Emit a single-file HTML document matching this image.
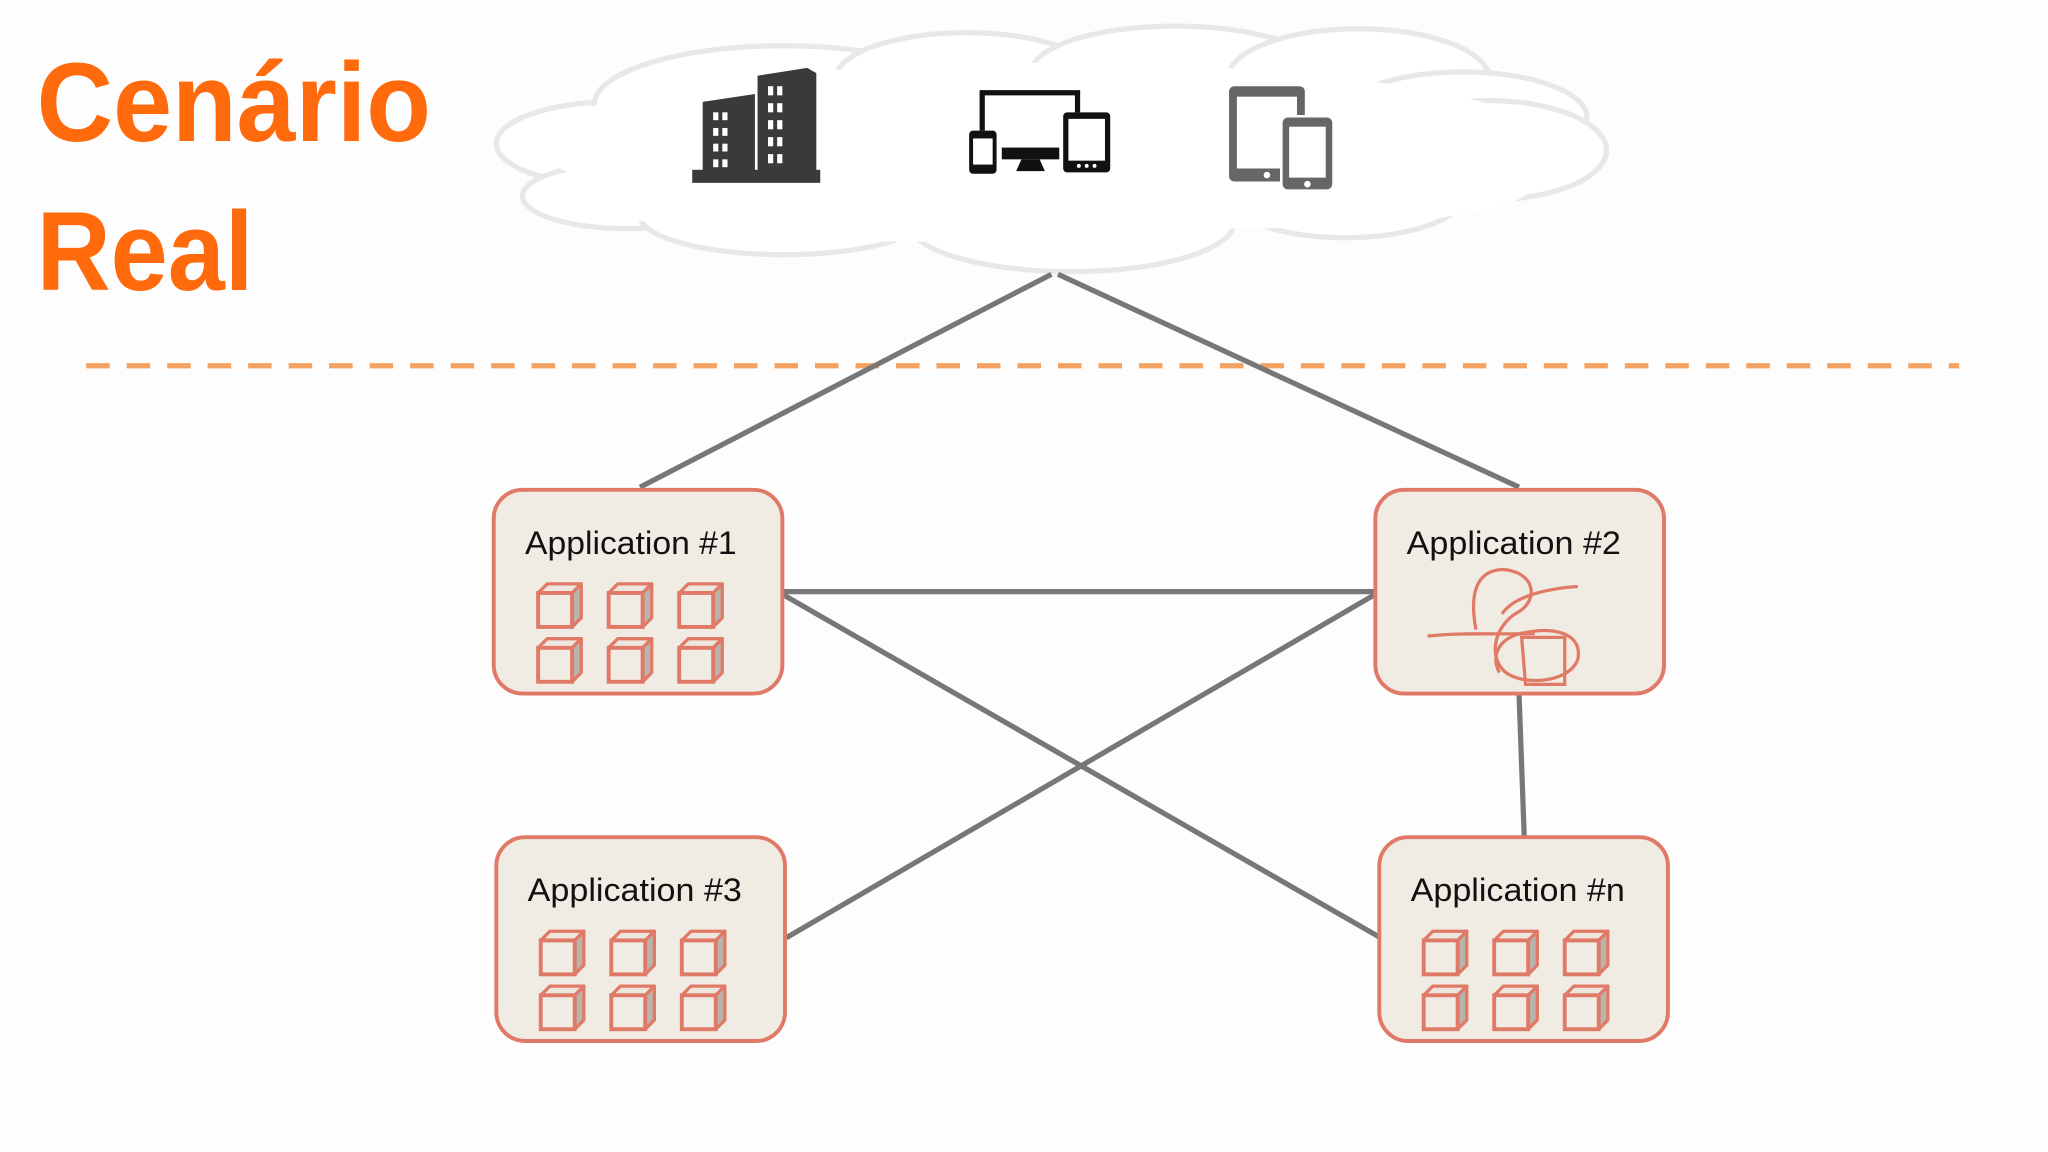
<!DOCTYPE html>
<html><head><meta charset="utf-8"><style>
html,body{margin:0;padding:0;background:#fdfdfd;}
svg{display:block;}
</style></head><body>
<svg width="2048" height="1152" viewBox="0 0 1568 882" xmlns="http://www.w3.org/2000/svg">
<defs>
<g id="cube">
  <polygon points="0,7 7,0 33,0 26,7" fill="#ece6df" stroke="#e07a66" stroke-width="2.5" stroke-linejoin="round"/>
  <polygon points="26,7 33,0 33,26 26,33" fill="#b9b4ae" stroke="#e07a66" stroke-width="2.5" stroke-linejoin="round"/>
  <rect x="0" y="7" width="26" height="26" fill="#f0ece4" stroke="#e07a66" stroke-width="3"/>
</g>
<g id="cubes">
  <use href="#cube" x="0" y="0"/><use href="#cube" x="54" y="0"/><use href="#cube" x="108" y="0"/>
  <use href="#cube" x="0" y="42"/><use href="#cube" x="54" y="42"/><use href="#cube" x="108" y="42"/>
</g>
</defs>
<rect width="1568" height="882" fill="#fdfdfd"/>
<!-- cloud -->
<g fill="#ffffff" stroke="#e8e8e8" stroke-width="4">
  <ellipse cx="470" cy="110" rx="90" ry="32"/>
  <ellipse cx="480" cy="150" rx="80" ry="25"/>
  <ellipse cx="600" cy="80" rx="145" ry="45"/>
  <ellipse cx="600" cy="165" rx="110" ry="30"/>
  <ellipse cx="820" cy="170" rx="125" ry="38"/>
  <ellipse cx="740" cy="60" rx="100" ry="35"/>
  <ellipse cx="900" cy="55" rx="110" ry="35"/>
  <ellipse cx="1040" cy="60" rx="100" ry="38"/>
  <ellipse cx="1120" cy="90" rx="95" ry="35"/>
  <ellipse cx="1140" cy="115" rx="90" ry="38"/>
  <ellipse cx="1030" cy="150" rx="90" ry="32"/>
</g>
<g fill="#ffffff">
  <ellipse cx="800" cy="110" rx="390" ry="62"/>
  <ellipse cx="700" cy="150" rx="250" ry="35"/>
  <ellipse cx="950" cy="145" rx="220" ry="30"/>
</g>
<!-- building -->
<g fill="#3a3a3a">
  <polygon points="538,78 578,72 578,138 538,138"/>
  <polygon points="580,58 618,52 625,56 625,138 580,138"/>
  <rect x="530" y="130" width="98" height="10"/>
</g>
<g fill="#ffffff">
  <rect x="546" y="86" width="4" height="6"/><rect x="553" y="86" width="4" height="6"/>
  <rect x="546" y="98" width="4" height="6"/><rect x="553" y="98" width="4" height="6"/>
  <rect x="546" y="110" width="4" height="6"/><rect x="553" y="110" width="4" height="6"/>
  <rect x="546" y="122" width="4" height="6"/><rect x="553" y="122" width="4" height="6"/>
  <rect x="588" y="66" width="4" height="7"/><rect x="595" y="66" width="4" height="7"/>
  <rect x="588" y="79" width="4" height="7"/><rect x="595" y="79" width="4" height="7"/>
  <rect x="588" y="92" width="4" height="7"/><rect x="595" y="92" width="4" height="7"/>
  <rect x="588" y="105" width="4" height="7"/><rect x="595" y="105" width="4" height="7"/>
  <rect x="588" y="118" width="4" height="7"/><rect x="595" y="118" width="4" height="7"/>
</g>
<!-- devices -->
<g>
  <path d="M752,100 V71 H825 V86" fill="none" stroke="#111" stroke-width="4"/>
  <rect x="742" y="100" width="21" height="33" rx="3" fill="#111"/>
  <rect x="745" y="106" width="15" height="20" fill="#fff"/>
  <rect x="767" y="113" width="44" height="9" fill="#111"/>
  <polygon points="782,122 796,122 800,131 778,131" fill="#111"/>
  <rect x="814" y="86" width="36" height="46" rx="3" fill="#111"/>
  <rect x="818" y="91" width="28" height="32" fill="#fff"/>
  <circle cx="826" cy="127" r="1.5" fill="#fff"/><circle cx="832" cy="127" r="1.5" fill="#fff"/><circle cx="838" cy="127" r="1.5" fill="#fff"/>
</g>
<!-- tablet + phone -->
<rect x="941" y="66" width="58" height="73" rx="4" fill="#666"/>
<rect x="947" y="74" width="46" height="55" fill="#fff"/>
<circle cx="970" cy="134" r="2.5" fill="#fff"/>
<rect x="980" y="88" width="42" height="59" rx="5" fill="#fdfdfd"/>
<rect x="982" y="90" width="38" height="55" rx="4" fill="#666"/>
<rect x="987" y="97" width="28" height="39" fill="#fff"/>
<circle cx="1001" cy="141" r="2.5" fill="#fff"/>
<!-- title -->
<text x="28" y="108" font-family="Liberation Sans, sans-serif" font-weight="bold" font-size="86" fill="#ff6a0d" textLength="302" lengthAdjust="spacingAndGlyphs">Cenário</text>
<text x="28" y="222" font-family="Liberation Sans, sans-serif" font-weight="bold" font-size="86" fill="#ff6a0d" textLength="166" lengthAdjust="spacingAndGlyphs">Real</text>
<!-- dashed line -->
<line x1="66" y1="280" x2="1500" y2="280" stroke="#f4a261" stroke-width="4" stroke-dasharray="18,13"/>
<!-- connectors -->
<g stroke="#777" stroke-width="4" fill="none">
  <line x1="805" y1="210" x2="490" y2="373"/>
  <line x1="810" y1="210" x2="1163" y2="373"/>
  <line x1="599" y1="453" x2="1053" y2="453"/>
  <line x1="599" y1="455" x2="1057" y2="718"/>
  <line x1="1053" y1="455" x2="602" y2="718"/>
  <line x1="1163" y1="531" x2="1167" y2="641"/>
</g>
<!-- boxes -->
<g fill="#f0ece4" stroke="#e07a66" stroke-width="3">
  <rect x="378" y="375" width="221" height="156" rx="22"/>
  <rect x="1053" y="375" width="221" height="156" rx="22"/>
  <rect x="380" y="641" width="221" height="156" rx="22"/>
  <rect x="1056" y="641" width="221" height="156" rx="22"/>
</g>
<g font-family="Liberation Sans, sans-serif" font-size="25" fill="#111">
  <text x="402" y="424" textLength="162" lengthAdjust="spacingAndGlyphs">Application #1</text>
  <text x="1077" y="424" textLength="164" lengthAdjust="spacingAndGlyphs">Application #2</text>
  <text x="404" y="690" textLength="164" lengthAdjust="spacingAndGlyphs">Application #3</text>
  <text x="1080" y="690" textLength="164" lengthAdjust="spacingAndGlyphs">Application #n</text>
</g>
<use href="#cubes" x="412" y="447"/>
<use href="#cubes" x="414" y="713"/>
<use href="#cubes" x="1090" y="713"/>
<!-- scribble -->
<g fill="none" stroke="#e07a66" stroke-width="2.5">
  <path d="M1130,482 C1125,455 1130,437 1150,436 C1175,437 1180,460 1160,470 C1145,480 1140,500 1150,512 C1160,525 1200,525 1208,505 C1212,485 1190,480 1170,484 C1150,486 1140,500 1148,515"/>
  <path d="M1093,487 C1120,484 1150,486 1175,485"/>
  <path d="M1150,470 C1160,455 1190,450 1208,449"/>
  <path d="M1165,488 L1198,488 L1198,524 L1168,524 Z"/>
</g>
</svg>
</body></html>
